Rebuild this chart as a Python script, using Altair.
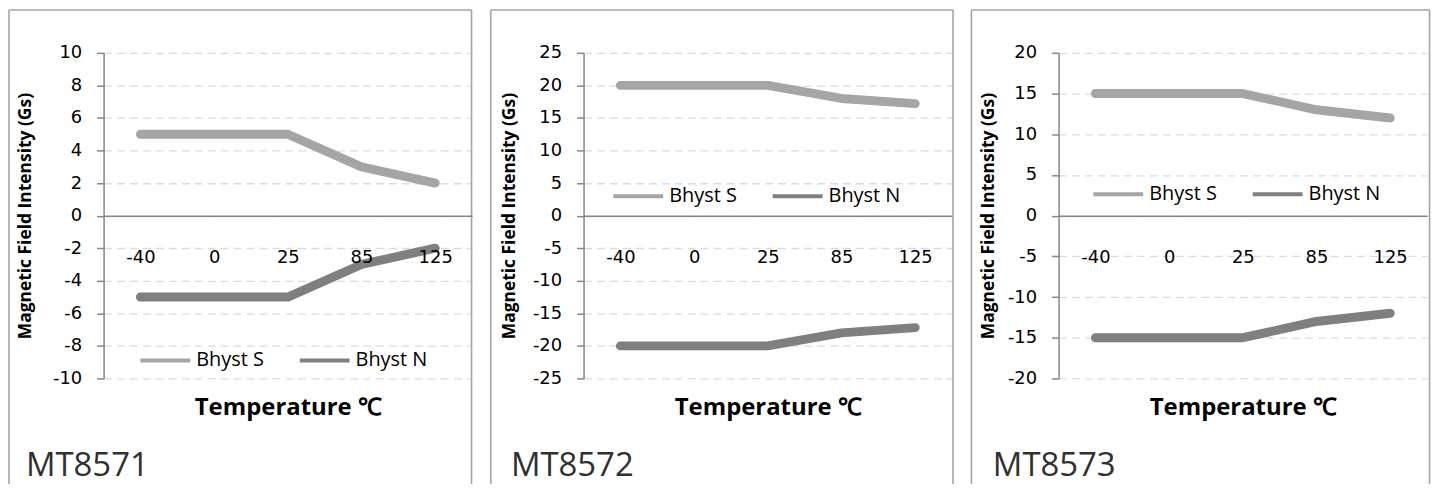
import altair as alt
import pandas as pd

temps = ["-40", "0", "25", "85", "125"]
series = ["Bhyst S", "Bhyst N"]
colors = ["#A5A5A5", "#7F7F7F"]
names = ["MT8571", "MT8572", "MT8573"]

s_vals = [[5, 5, 5, 3, 2], [20, 20, 20, 18, 17.2], [15, 15, 15, 13, 12]]
n_vals = [[-5, -5, -5, -3, -2], [-20, -20, -20, -18, -17.2], [-15, -15, -15, -13, -12]]
y_ranges = [(-10, 10, 2), (-25, 25, 5), (-20, 20, 5)]

W, H = 370, 327

# layout per panel (relative to plot origin)
legend_pos = [(35, 282), (28, 117), (33, 115)]
border_left = [-95, -93.25, -87.5]
border_right = [369.5, 371, 372.5]
ytitle_x = [-78, -74, -70.5]
name_x = [-78, -73, -66]

TICK_FONT = "DejaVu Sans"
TEXT_FONT = "Open Sans"
AXIS_GRAY = "#868686"
BORDER_GRAY = "#A3A3A3"


def panel(i):
    ymin, ymax, step = y_ranges[i]
    rows = []
    for t, s, n in zip(temps, s_vals[i], n_vals[i]):
        rows.append({"temp": t, "series": "Bhyst S", "value": s})
        rows.append({"temp": t, "series": "Bhyst N", "value": n})
    df = pd.DataFrame(rows)

    lines = alt.Chart(df).mark_line(
        strokeWidth=9, strokeCap="round", strokeJoin="round"
    ).encode(
        x=alt.X(
            "temp:O",
            sort=temps,
            scale=alt.Scale(padding=0.5),
            axis=alt.Axis(
                title="Temperature ℃",
                labelAngle=0,
                offset=-H / 2,
                ticks=False,
                tickSize=0,
                labelPadding=33,
                labelFont=TICK_FONT,
                labelFontSize=18,
                labelColor="#000000",
                domainColor=AXIS_GRAY,
                domainWidth=1.5,
                titleFont=TEXT_FONT,
                titleFontSize=24,
                titleFontWeight="bold",
                titleColor="#000000",
                titleY=193,
                titleBaseline="middle",
                zindex=1,
                grid=False,
            ),
        ),
        y=alt.Y(
            "value:Q",
            scale=alt.Scale(domain=[ymin, ymax], nice=False, zero=False),
            axis=alt.Axis(
                title="Magnetic Field Intensity (Gs)",
                values=list(range(ymin, ymax + 1, step)),
                labelExpr="'' + datum.value",
                labelFont=TICK_FONT,
                labelFontSize=18,
                labelColor="#000000",
                labelPadding=15,
                tickSize=7,
                tickColor=AXIS_GRAY,
                tickWidth=1.5,
                domainColor=AXIS_GRAY,
                domainWidth=1.5,
                grid=True,
                gridColor="#D3DCEE",
                gridWidth=1.3,
                gridDash=[8, 5],
                titleFont=TEXT_FONT,
                titleFontSize=17.5,
                titleFontWeight="bold",
                titleColor="#000000",
                titleX=ytitle_x[i],
                titleY=H / 2,
                titleBaseline="middle",
            ),
        ),
        stroke=alt.Stroke(
            "series:N",
            scale=alt.Scale(domain=series, range=colors),
            legend=alt.Legend(
                title=None,
                orient="none",
                legendX=legend_pos[i][0],
                legendY=legend_pos[i][1],
                direction="horizontal",
                symbolType="stroke",
                symbolSize=2500,
                symbolStrokeWidth=4,
                labelFont=TEXT_FONT,
                labelFontSize=20,
                labelColor="#000000",
                labelOffset=4,
                columnPadding=27,
                padding=0,
            ),
        ),
    )

    one = pd.DataFrame({"k": [0]})
    left = alt.Chart(one).mark_rule(color=BORDER_GRAY, strokeWidth=1.6).encode(
        x=alt.value(border_left[i]), y=alt.value(-43), y2=alt.value(433)
    )
    right = alt.Chart(one).mark_rule(color=BORDER_GRAY, strokeWidth=1.6).encode(
        x=alt.value(border_right[i]), y=alt.value(-43), y2=alt.value(433)
    )
    top = alt.Chart(one).mark_rule(color=BORDER_GRAY, strokeWidth=1.6).encode(
        x=alt.value(border_left[i]), x2=alt.value(border_right[i]), y=alt.value(-43)
    )
    name = alt.Chart(one).mark_text(
        align="left", baseline="alphabetic", font=TEXT_FONT, fontSize=33, color="#303030"
    ).encode(x=alt.value(name_x[i]), y=alt.value(425), text=alt.value(names[i]))

    return alt.layer(lines, left, right, top, name).properties(width=W, height=H)


chart = (
    alt.hconcat(panel(0), panel(1), panel(2), spacing=16)
    .resolve_scale(stroke="independent")
    .resolve_legend(stroke="independent")
    .configure_view(stroke=None)
    .properties(padding=0, background="white")
)

chart.save("out.html", embed_options={"renderer": "svg", "actions": False})
